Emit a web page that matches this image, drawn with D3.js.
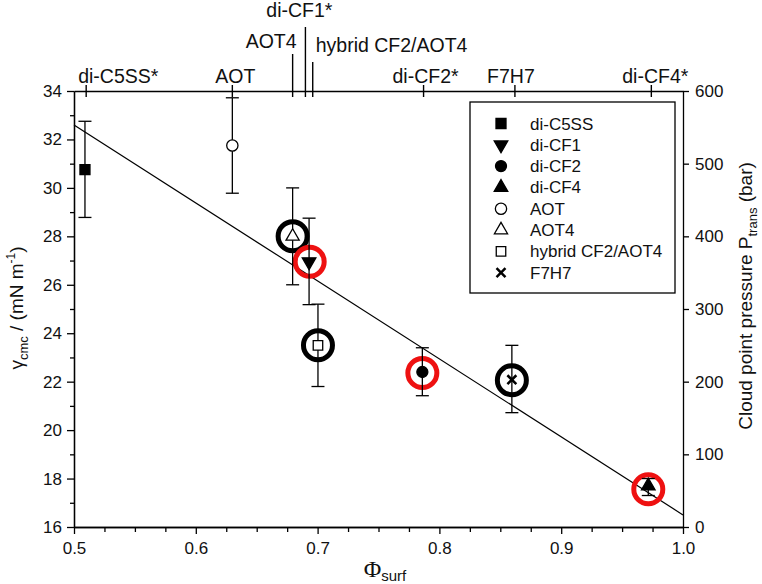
<!DOCTYPE html>
<html>
<head>
<meta charset="utf-8">
<script src="https://cdn.jsdelivr.net/npm/d3@7"></script>
<style>
  html, body { margin: 0; padding: 0; background: #fff; }
  svg { display: block; font-family: "Liberation Sans", Arial, sans-serif; }
</style>
</head>
<body>
<svg id="chart" width="762" height="584"></svg>
<script>
// ---------- data ----------
const names  = ["di-C5SS", "di-CF1", "di-CF2", "di-CF4", "AOT", "AOT4", "hybrid CF2/AOT4", "F7H7"];
const phi    = [0.509, 0.693, 0.786, 0.9715, 0.630, 0.6795, 0.7003, 0.8595];
const gamma  = [30.75, 26.95, 22.4, 17.7, 31.75, 28.0, 23.5, 22.08];
const errLow = [28.78, 25.18, 21.42, 17.3, 29.78, 26.0, 21.8, 20.72];
const errHigh= [32.75, 28.75, 23.4, 18.0, 33.72, 30.0, 25.2, 23.5];

// cloud point pressure (right axis), shown as rings
const ringNames = ["AOT4", "di-CF1", "hybrid CF2/AOT4", "di-CF2", "F7H7", "di-CF4"];
const ringPhi   = [0.6795, 0.6935, 0.7003, 0.786, 0.8595, 0.9715];
const ringP     = [400, 365, 250, 212, 202, 52];

// linear fit
const fitPhi   = [0.5, 1.0];
const fitGamma = [32.6, 16.5];

// top axis labels
const topLabels = ["di-C5SS*", "AOT", "AOT4", "di-CF1*", "hybrid CF2/AOT4", "di-CF2*", "F7H7", "di-CF4*"];
const topPhi    = [0.51, 0.63, 0.6795, 0.690, 0.696, 0.787, 0.862, 0.974];

// tick labels
const xTicks = [0.5, 0.6, 0.7, 0.8, 0.9, 1.0];
const yTicks = [16, 18, 20, 22, 24, 26, 28, 30, 32, 34];
const yRTicks = [0, 100, 200, 300, 400, 500, 600];

// ---------- layout ----------
const L = 74, R = 683, T = 91, B = 527;
const svg = d3.select("#chart");
const x = d3.scaleLinear().domain([0.5, 1.0]).range([L, R]);
const y = d3.scaleLinear().domain([16, 34]).range([B, T]);
const yR = d3.scaleLinear().domain([0, 600]).range([B, T]);

const tickFont = "17px";

function styleAxis(g) {
  g.selectAll("path, line").attr("stroke", "#000").attr("stroke-width", 1.3);
  g.selectAll("text").attr("fill", "#111").style("font-size", tickFont)
    .style("font-family", "'Liberation Sans', Arial, sans-serif");
}

// bottom axis
const xMinor = d3.range(0.5, 1.0001, 0.025).filter(v => Math.abs(v * 10 - Math.round(v * 10)) > 1e-6);
svg.append("g").attr("transform", `translate(0,${B})`)
  .call(d3.axisBottom(x).tickValues(xTicks).tickFormat(d3.format(".1f")).tickSizeOuter(0).tickSizeInner(7).tickPadding(8))
  .call(styleAxis);
svg.append("g").attr("transform", `translate(0,${B})`)
  .call(d3.axisBottom(x).tickValues(xMinor).tickFormat("").tickSizeOuter(0).tickSizeInner(5))
  .call(styleAxis);

// left axis
const yMinor = d3.range(17, 34, 2);
svg.append("g").attr("transform", `translate(${L},0)`)
  .call(d3.axisLeft(y).tickValues(yTicks).tickFormat(d3.format("d")).tickSizeOuter(0).tickSizeInner(7).tickPadding(5))
  .call(styleAxis);
svg.append("g").attr("transform", `translate(${L},0)`)
  .call(d3.axisLeft(y).tickValues(yMinor).tickFormat("").tickSizeOuter(0).tickSizeInner(4))
  .call(styleAxis);

// right axis
svg.append("g").attr("transform", `translate(${R},0)`)
  .call(d3.axisRight(yR).tickValues(yRTicks).tickFormat(d3.format("d")).tickSizeOuter(0).tickSizeInner(6).tickPadding(6))
  .call(styleAxis);

// top axis line
svg.append("g").attr("transform", `translate(0,${T})`)
  .call(d3.axisTop(x).tickValues([]).tickSizeOuter(0))
  .call(styleAxis);

// top axis ticks + labels (layout per label)
const topLayout = [
  { anchor: "start",  dx: -8, base: 83, top: 85 },
  { anchor: "middle", dx: 3,  base: 83, top: 85 },
  { anchor: "end",    dx: 4,  base: 48, top: 54 },
  { anchor: "middle", dx: -6, base: 17, top: 27 },
  { anchor: "start",  dx: 3,  base: 52, top: 62 },
  { anchor: "middle", dx: 2,  base: 83, top: 85 },
  { anchor: "middle", dx: -4, base: 83, top: 85 },
  { anchor: "middle", dx: 4,  base: 83, top: 85 }
];
const topG = svg.append("g");
topLabels.forEach((lab, i) => {
  const lay = topLayout[i];
  const px = x(topPhi[i]);
  topG.append("line").attr("x1", px).attr("x2", px).attr("y1", lay.top).attr("y2", T + 6)
    .attr("stroke", "#000").attr("stroke-width", 1.4);
  topG.append("text").attr("x", px + lay.dx).attr("y", lay.base)
    .attr("text-anchor", lay.anchor).style("font-size", "19.5px").attr("fill", "#111").text(lab);
});

// fit line
svg.append("line")
  .attr("x1", x(fitPhi[0])).attr("y1", y(fitGamma[0]))
  .attr("x2", x(fitPhi[1])).attr("y2", y(fitGamma[1]))
  .attr("stroke", "#000").attr("stroke-width", 1.2);

// rings (cloud point pressure)
const ringColor = n => n.startsWith("di-") ? "#ee1111" : "#000";
svg.append("g").selectAll("circle").data(ringNames).join("circle")
  .attr("cx", (d, i) => x(ringPhi[i])).attr("cy", (d, i) => yR(ringP[i]))
  .attr("r", 14.5).attr("fill", "none")
  .attr("stroke", d => ringColor(d)).attr("stroke-width", 5);

// error bars
const cap = 6.5;
const eb = svg.append("g").attr("stroke", "#000").attr("stroke-width", 1.3);
names.forEach((n, i) => {
  const px = x(phi[i]);
  eb.append("line").attr("x1", px).attr("x2", px).attr("y1", y(errLow[i])).attr("y2", y(errHigh[i]));
  eb.append("line").attr("x1", px - cap).attr("x2", px + cap).attr("y1", y(errLow[i])).attr("y2", y(errLow[i]));
  eb.append("line").attr("x1", px - cap).attr("x2", px + cap).attr("y1", y(errHigh[i])).attr("y2", y(errHigh[i]));
});

// symbols
const xSym = {
  draw(ctx, size) {
    const r = Math.sqrt(size) / 2;
    ctx.moveTo(-r, -r); ctx.lineTo(r, r);
    ctx.moveTo(r, -r); ctx.lineTo(-r, r);
  }
};
const symStyle = {
  "di-C5SS":        { type: d3.symbolSquare,   size: 100, fill: "#000", rot: 0 },
  "di-CF1":         { type: d3.symbolTriangle, size: 80,  fill: "#000", rot: 180 },
  "di-CF2":         { type: d3.symbolCircle,   size: 95,  fill: "#000", rot: 0 },
  "di-CF4":         { type: d3.symbolTriangle, size: 80,  fill: "#000", rot: 0 },
  "AOT":            { type: d3.symbolCircle,   size: 100, fill: "none", rot: 0 },
  "AOT4":           { type: d3.symbolTriangle, size: 75,  fill: "none", rot: 0 },
  "hybrid CF2/AOT4":{ type: d3.symbolSquare,   size: 90,  fill: "none", rot: 0 },
  "F7H7":           { type: xSym,              size: 80,  fill: "none", rot: 0 }
};
function drawSym(g, n, cx, cy) {
  const s = symStyle[n];
  g.append("path")
    .attr("d", d3.symbol().type(s.type).size(s.size)())
    .attr("transform", `translate(${cx},${cy}) rotate(${s.rot})`)
    .attr("fill", s.fill === "none" ? "#fff" : s.fill)
    .attr("stroke", "#000")
    .attr("stroke-width", n === "F7H7" ? 2.5 : 1.3);
}
const symG = svg.append("g");
names.forEach((n, i) => drawSym(symG, n, x(phi[i]), y(gamma[i])));

// legend
const lg = svg.append("g");
lg.append("rect").attr("x", 470).attr("y", 102).attr("width", 205).attr("height", 191)
  .attr("fill", "#fff").attr("stroke", "#000").attr("stroke-width", 1.3);
names.forEach((n, i) => {
  const cy = 123.5 + i * 21.3;
  drawSym(lg, n, 501, cy);
  lg.append("text").attr("x", 530).attr("y", cy + 6).style("font-size", "17px").attr("fill", "#111").text(n);
});

// axis titles
const yt = svg.append("text").attr("transform", "translate(23,308) rotate(-90)")
  .attr("text-anchor", "middle").style("font-size", "19px").attr("fill", "#111");
yt.append("tspan").text("γ");
yt.append("tspan").style("font-size", "13px").attr("dy", 5).text("cmc");
yt.append("tspan").attr("dy", -5).text(" / (mN m");
yt.append("tspan").style("font-size", "12px").attr("dy", -8).text("-1");
yt.append("tspan").attr("dy", 8).text(")");

const rt = svg.append("text").attr("transform", "translate(752,296) rotate(-90)")
  .attr("text-anchor", "middle").style("font-size", "19px").attr("fill", "#111");
rt.append("tspan").text("Cloud point pressure P");
rt.append("tspan").style("font-size", "13px").attr("dy", 5).text("trans");
rt.append("tspan").attr("dy", -5).text(" (bar)");

const xt = svg.append("text").attr("x", 385).attr("y", 577)
  .attr("text-anchor", "middle").attr("fill", "#111");
xt.append("tspan").style("font-size", "24px").style("font-family", "'Liberation Serif', 'Times New Roman', serif").text("Φ");
xt.append("tspan").style("font-size", "15px").attr("dy", 4).text("surf");
</script>
</body>
</html>
